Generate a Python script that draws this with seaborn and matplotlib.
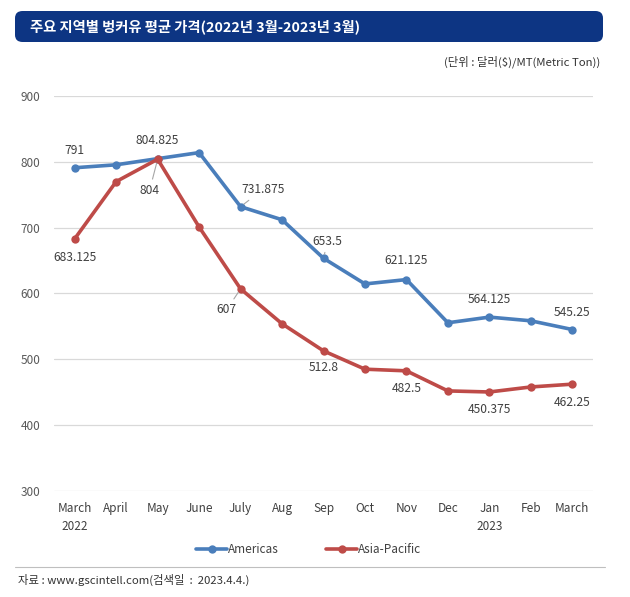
import pandas as pd
import seaborn as sns
import matplotlib.pyplot as plt
from matplotlib.patches import FancyBboxPatch

months = ["March\n2022", "April", "May", "June", "July", "Aug", "Sep", "Oct",
          "Nov", "Dec", "Jan\n2023", "Feb", "March"]
americas = [791, 795.5, 804.825, 814, 731.875, 712, 653.5, 614.5, 621.125, 555.5, 564.125, 558.5, 545.25]
asia_pacific = [683.125, 770, 804, 701, 607, 554, 512.8, 485, 482.5, 452, 450.375, 458, 462.25]

# labels shown on the chart: (series, month index, text, offset in px, leader line)
labels = [
    ("Americas", 0, "791", (0, 17), False),
    ("Americas", 2, "804.825", (0, 18), False),
    ("Americas", 4, "731.875", (22, 17), True),
    ("Americas", 6, "653.5", (4, 17), True),
    ("Americas", 8, "621.125", (0, 19), False),
    ("Americas", 10, "564.125", (0, 18), False),
    ("Americas", 12, "545.25", (0, 17), False),
    ("Asia-Pacific", 0, "683.125", (0, -19), False),
    ("Asia-Pacific", 2, "804", (-8, -31), True),
    ("Asia-Pacific", 4, "607", (-14, -21), True),
    ("Asia-Pacific", 6, "512.8", (0, -17), False),
    ("Asia-Pacific", 8, "482.5", (0, -18), False),
    ("Asia-Pacific", 10, "450.375", (0, -18), False),
    ("Asia-Pacific", 12, "462.25", (0, -18), False),
]

sns.set_style("white")
plt.rcParams['font.family'] = ['Noto Sans CJK KR', 'DejaVu Sans']

df = pd.DataFrame({"idx": list(range(len(months))) * 2,
                   "price": americas + asia_pacific,
                   "region": ["Americas"] * len(months) + ["Asia-Pacific"] * len(months)})
colors = {"Americas": "#4a7ebb", "Asia-Pacific": "#be4b48"}

fig = plt.figure(figsize=(6.3, 5.97), dpi=100)
ax = fig.add_axes([0.0857, 0.1776, 0.8556, 0.6616])

sns.lineplot(data=df, x="idx", y="price", hue="region", palette=colors,
             marker="o", markersize=6, markeredgewidth=0, linewidth=2.6, ax=ax, legend=True)

ax.set_xlim(-0.5, 12.5)
ax.set_ylim(300, 900)
ax.set_yticks(range(300, 901, 100))
ax.set_xticks(range(len(months)))
ax.set_xticklabels(months, fontsize=8.5, color="#404040", linespacing=1.5)
ax.tick_params(axis="y", labelsize=8.5, labelcolor="#595959", length=0, pad=10)
ax.tick_params(axis="x", length=0, pad=8)
ax.grid(axis="y", color="#d9d9d9", linewidth=0.9)
ax.set_xlabel("")
ax.set_ylabel("")
for s in ax.spines.values():
    s.set_visible(False)

series = {"Americas": americas, "Asia-Pacific": asia_pacific}
for name, i, txt, off, leader in labels:
    v = series[name][i]
    ax.annotate(txt, xy=(i, v), xytext=off, textcoords="offset pixels",
                ha="center", va="center", fontsize=8.7, color="#404040",
                arrowprops=dict(arrowstyle="-", color="#a6a6a6", lw=0.8,
                                shrinkA=1, shrinkB=3) if leader else None)

handles, lbls = ax.get_legend_handles_labels()
ax.legend_.remove()
fig.legend(handles, lbls, loc="center", bbox_to_anchor=(0.49, 0.079), ncol=2,
           frameon=False, fontsize=8.5, handlelength=2.6, columnspacing=4,
           handletextpad=0.1, labelcolor="#404040")

# title banner
banner = FancyBboxPatch((15 / 630, 1 - 42 / 597), 588 / 630, 31 / 597,
                        boxstyle="round,pad=0,rounding_size=0.012",
                        transform=fig.transFigure, facecolor="#0d3583",
                        edgecolor="none")
fig.patches.append(banner)
fig.text(30 / 630, 1 - 27 / 597, "주요 지역별 벙커유 평균 가격(2022년 3월-2023년 3월)",
         color="white", fontsize=10.3, fontweight="bold", va="center")
fig.text(600 / 630, 1 - 62 / 597, "(단위 : 달러($)/MT(Metric Ton))",
         color="#333333", fontsize=8.2, ha="right", va="center")

fig.add_artist(plt.Line2D([15 / 630, 605 / 630], [1 - 567 / 597] * 2,
                          transform=fig.transFigure, color="#bfbfbf", lw=0.8))
fig.text(18 / 630, 1 - 580 / 597, "자료 : www.gscintell.com(검색일  :  2023.4.4.)",
         color="#333333", fontsize=8.2, va="center")

fig.savefig("out.png", dpi=100)
